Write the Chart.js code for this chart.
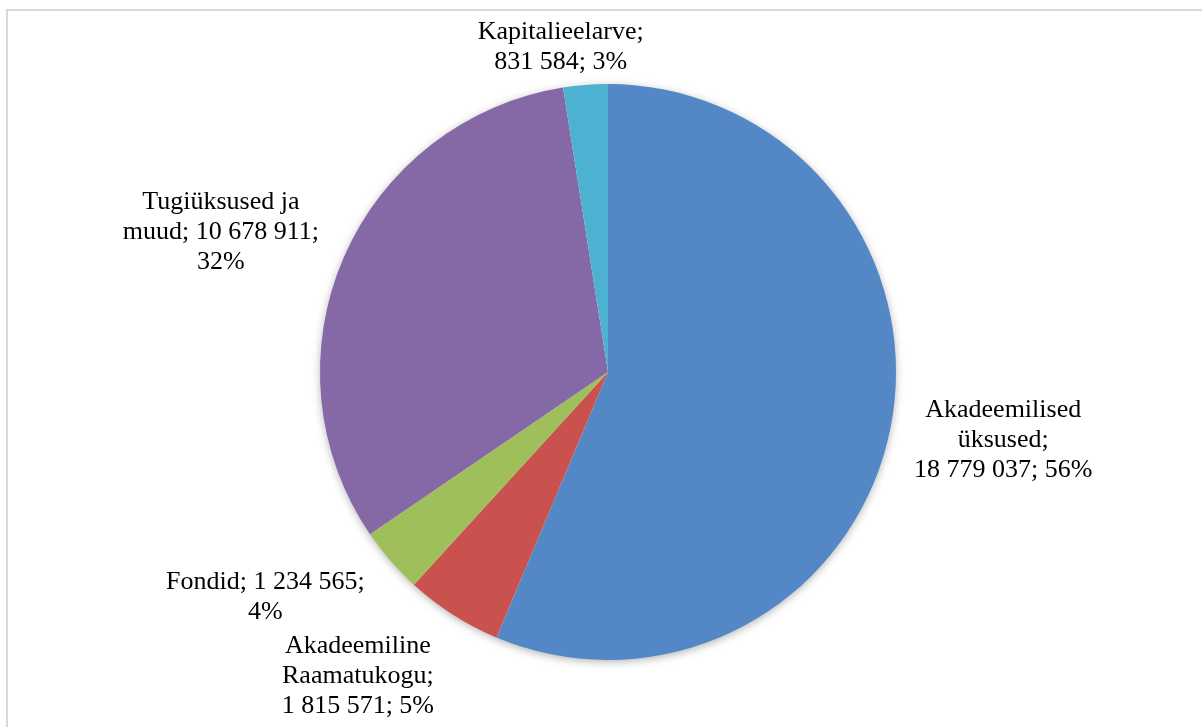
<!DOCTYPE html>
<html>
<head>
<meta charset="utf-8">
<script src="https://cdn.jsdelivr.net/npm/chart.js@4"></script>
<style>
    body { margin: 0; background: #fff; overflow: hidden; }
    #frame {
        position: absolute; left: 6px; top: 9px;
        width: 1300px; height: 800px;
        border: 2px solid #d9d9d9;
    }
    #wrap { position: absolute; left: 0; top: 0; width: 1202px; height: 727px; }
</style>
</head>
<body>
<div id="frame"></div>
<div id="wrap"><canvas id="pieChart" width="1202" height="727"></canvas></div>
<script>
// Chart data
const categories = ['Akadeemilised üksused', 'Akadeemiline Raamatukogu', 'Fondid', 'Tugiüksused ja muud', 'Kapitalieelarve'];
const amounts = [18779037, 1815571, 1234565, 10678911, 831584];
const percents = [56, 5, 4, 32, 3]; // as printed on the labels
const sliceColors = ['#5387C6', '#C9524E', '#9FBF5B', '#8568A6', '#4DB1D1'];

// Small per-label nudges (px) on top of the computed outside position
const labelNudge = [[-2, -3], [-39, 0], [-29, -2], [-7, 3], [-16, 20]];

const labelFont = '26px "Liberation Serif", "Times New Roman", serif';
const lineHeight = 30;
const wrapWidth = 210;

// Format number with spaces as thousand separators (non-breaking so they don't wrap)
function fmt(n) {
    return String(n).replace(/\B(?=(\d{3})+(?!\d))/g, '\u00A0');
}

// Simple word wrap on normal spaces
function wrapText(ctx, text, maxW) {
    let words = text.split(' ');
    let lines = [];
    let cur = '';
    words.forEach(w => {
        let test = cur ? cur + ' ' + w : w;
        if (cur && ctx.measureText(test).width > maxW) {
            lines.push(cur);
            cur = w;
        } else {
            cur = test;
        }
    });
    if (cur) lines.push(cur);
    return lines;
}

// Soft shadow under the pie
const pieShadow = {
    id: 'pieShadow',
    beforeDatasetsDraw(chart) {
        let arc = chart.getDatasetMeta(0).data[0];
        if (!arc) return;
        let { x, y, outerRadius } = arc.getProps(['x', 'y', 'outerRadius'], true);
        let ctx = chart.ctx;
        ctx.save();
        ctx.shadowColor = 'rgba(0, 0, 0, 0.35)';
        ctx.shadowBlur = 10;
        ctx.shadowOffsetY = 2;
        ctx.fillStyle = '#ffffff';
        ctx.beginPath();
        ctx.arc(x, y, outerRadius - 1, 0, Math.PI * 2);
        ctx.fill();
        ctx.restore();
    }
};

// Data labels outside each slice
const outsideLabels = {
    id: 'outsideLabels',
    afterDatasetsDraw(chart) {
        let ctx = chart.ctx;
        ctx.save();
        ctx.font = labelFont;
        ctx.fillStyle = '#000';
        ctx.textAlign = 'center';
        ctx.textBaseline = 'middle';
        chart.getDatasetMeta(0).data.forEach((arc, i) => {
            let p = arc.getProps(['x', 'y', 'startAngle', 'endAngle', 'outerRadius'], true);
            let mid = (p.startAngle + p.endAngle) / 2;
            let dx = Math.cos(mid), dy = Math.sin(mid);
            let text = categories[i] + '; ' + fmt(amounts[i]) + '; ' + percents[i] + '%';
            let lines = wrapText(ctx, text, wrapWidth);
            let w = Math.max(...lines.map(l => ctx.measureText(l).width));
            let h = lines.length * lineHeight;
            let gap = 28;
            let cx = p.x + dx * (p.outerRadius + gap) + dx * w / 2 + labelNudge[i][0];
            let cy = p.y + dy * (p.outerRadius + gap) + dy * h / 2 + labelNudge[i][1];
            lines.forEach((line, j) => {
                ctx.fillText(line, cx, cy + (j - (lines.length - 1) / 2) * lineHeight);
            });
        });
        ctx.restore();
    }
};

new Chart(document.getElementById('pieChart'), {
    type: 'pie',
    data: {
        labels: categories,
        datasets: [{
            data: amounts,
            backgroundColor: sliceColors,
            borderWidth: 0
        }]
    },
    options: {
        responsive: false,
        animation: false,
        layout: { padding: { left: 14, right: 0, top: 84, bottom: 67 } },
        plugins: {
            legend: { display: false },
            tooltip: { enabled: false }
        }
    },
    plugins: [pieShadow, outsideLabels]
});
</script>
</body>
</html>
